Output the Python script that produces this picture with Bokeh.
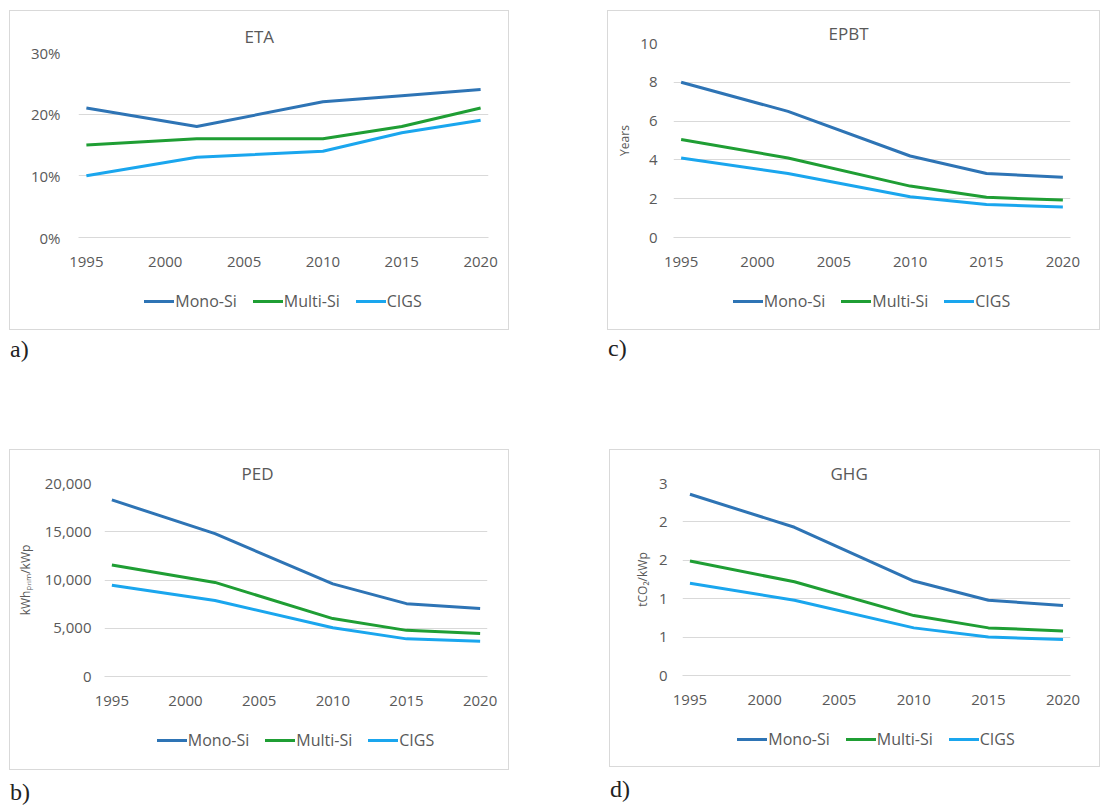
from bokeh.plotting import figure
from bokeh.models import (FixedTicker, NumeralTickFormatter, Div, Spacer, Title, Range1d)
from bokeh.layouts import column, row
from bokeh.embed import file_html
from bokeh.resources import INLINE

# ---------------- data ----------------
years = [1995, 2002, 2010, 2015, 2020]
series_names = ["Mono-Si", "Multi-Si", "CIGS"]
x_ticks = [1995, 2000, 2005, 2010, 2015, 2020]

eta_mono = [0.21, 0.18, 0.22, 0.23, 0.24]
eta_multi = [0.15, 0.16, 0.16, 0.18, 0.21]
eta_cigs = [0.10, 0.13, 0.14, 0.17, 0.19]
eta_ticks = [0, 0.1, 0.2, 0.3]

epbt_mono = [8.0, 6.5, 4.2, 3.3, 3.1]
epbt_multi = [5.05, 4.1, 2.65, 2.07, 1.93]
epbt_cigs = [4.1, 3.3, 2.1, 1.7, 1.57]
epbt_ticks = [0, 2, 4, 6, 8, 10]

ped_mono = [18300, 14800, 9600, 7550, 7050]
ped_multi = [11550, 9750, 6000, 4780, 4450]
ped_cigs = [9450, 7880, 5050, 3900, 3650]
ped_ticks = [0, 5000, 10000, 15000, 20000]

ghg_mono = [2.36, 1.93, 1.23, 0.98, 0.91]
ghg_multi = [1.49, 1.22, 0.78, 0.62, 0.58]
ghg_cigs = [1.20, 0.98, 0.62, 0.50, 0.47]
ghg_ticks = [0, 0.5, 1.0, 1.5, 2.0, 2.5]
ghg_tick_labels = ["0", "1", "1", "2", "2", "3"]

colors = ["#2e74b5", "#1f9e34", "#1aa6ee"]
FONT = "Open Sans"
TXT = "#595959"
GRID = "#d9d9d9"
NOMARGIN = (0, 0, 0, 0)


def make_panel(title, ys, y_end, y_ticks, width, fig_h, box_h, left, right, top,
               title_offset, title_standoff, ylab_standoff=8, tick_standoff=16,
               ylabel=None, fmt=None, overrides=None):
    p = figure(width=width, height=fig_h, output_backend="svg", toolbar_location=None,
               x_range=Range1d(1994.5, 2020.5), y_range=Range1d(0, y_end),
               min_border_left=left, min_border_right=right,
               min_border_top=top, min_border_bottom=40, margin=NOMARGIN)
    p.outline_line_color = None
    p.background_fill_alpha = 0
    p.border_fill_alpha = 0

    t = Title(text=title, align="left", offset=title_offset, standoff=title_standoff,
              text_font=FONT, text_font_size="17px", text_font_style="normal",
              text_color=TXT)
    p.add_layout(t, "above")

    p.xaxis.ticker = FixedTicker(ticks=x_ticks)
    p.yaxis.ticker = FixedTicker(ticks=y_ticks)
    p.xgrid.grid_line_color = None
    p.ygrid.grid_line_color = GRID
    for ax in (p.xaxis, p.yaxis):
        ax.major_tick_line_color = None
        ax.minor_tick_line_color = None
        ax.major_tick_out = 0
        ax.major_tick_in = 0
        ax.minor_tick_out = 0
        ax.minor_tick_in = 0
        ax.major_label_text_font = FONT
        ax.major_label_text_font_size = "15px"
        ax.major_label_text_color = TXT
    p.xaxis.axis_line_color = GRID
    p.yaxis.axis_line_color = None
    p.xaxis.major_label_standoff = 19
    p.yaxis.major_label_standoff = tick_standoff
    if fmt is not None:
        p.yaxis.formatter = fmt
    if overrides is not None:
        p.yaxis.major_label_overrides = overrides
    if ylabel:
        p.yaxis.axis_label = ylabel
        p.yaxis.axis_label_text_font = FONT
        p.yaxis.axis_label_text_font_size = "12px"
        p.yaxis.axis_label_text_font_style = "normal"
        p.yaxis.axis_label_text_color = TXT
        p.yaxis.axis_label_standoff = ylab_standoff

    for vals, c in zip(ys, colors):
        p.line(years, vals, line_color=c, line_width=3, line_join="round")

    # legend (HTML, centred under the plotting frame)
    frame_w = width - left - right
    parts = []
    for name, c in zip(series_names, colors):
        parts.append(
            f'<span style="display:inline-flex;align-items:center;margin:0 8px">'
            f'<span style="display:inline-block;width:30px;height:3px;background:{c};'
            f'margin-right:1px"></span>{name}</span>')
    html = (f'<div style="margin-left:{left}px;width:{frame_w}px;padding-top:13px;'
            f'display:flex;justify-content:center;align-items:center;'
            f"font-family:'Open Sans';font-size:16px;line-height:22px;color:{TXT}\">"
            + "".join(parts) + "</div>")
    leg = Div(text=html, width=width, height=box_h - fig_h, margin=NOMARGIN)
    return column(p, leg, margin=NOMARGIN,
                  styles={"outline": "1px solid #d9d9d9", "outline-offset": "-1px"})


pa = make_panel("ETA", [eta_mono, eta_multi, eta_cigs], 0.30, eta_ticks,
                500, 267, 320, 69, 21, 42, 166, 9, tick_standoff=18,
                fmt=NumeralTickFormatter(format="0%"))
pb = make_panel("PED", [ped_mono, ped_multi, ped_cigs], 20000, ped_ticks,
                500, 267, 321, 95, 22, 34, 137, -2, ylab_standoff=8, tick_standoff=13,
                ylabel="kWhₚᵣᵢₘ/kWp", fmt=NumeralTickFormatter(format="0,0"))
pc = make_panel("EPBT", [epbt_mono, epbt_multi, epbt_cigs], 10, epbt_ticks,
                493, 267, 320, 66, 30, 33, 155, -3, ylab_standoff=4, ylabel="Years")
pd = make_panel("GHG", [ghg_mono, ghg_multi, ghg_cigs], 2.5, ghg_ticks,
                491, 266, 318, 73, 30, 34, 148, -2, ylab_standoff=5, tick_standoff=15,
                ylabel="tCO₂/kWp",
                overrides={t: l for t, l in zip(ghg_ticks, ghg_tick_labels)})


def tag(txt, pad, h, w, indent=0):
    return Div(text=f'<div style="font-family:\'Liberation Serif\';font-size:24px;'
                    f'line-height:26px;padding-top:{pad}px;padding-left:{indent}px;'
                    f'color:#222">{txt}</div>',
               width=w, height=h, margin=NOMARGIN)


left_col = column(pa, tag("a)", 6, 40, 500, 1), Spacer(height=79), pb,
                  tag("b)", 9, 37, 500, 1), margin=NOMARGIN)
right_col = column(pc, tag("c)", 5, 40, 493, 1), Spacer(height=79),
                   row(Spacer(width=2), pd, margin=NOMARGIN),
                   tag("d)", 9, 37, 493, 3), margin=NOMARGIN)
layout = column(Spacer(height=10),
                row(Spacer(width=9), left_col, Spacer(width=98), right_col, margin=NOMARGIN),
                margin=NOMARGIN)

open("out.html", "w").write(file_html(layout, INLINE))
